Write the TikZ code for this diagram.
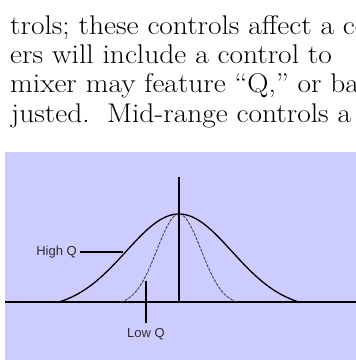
\documentclass[tikz,border=0pt]{standalone}
\usepackage{fontspec}
\newfontfamily\labelfont{Liberation Sans}
\definecolor{panelblue}{RGB}{204,204,255}
\definecolor{labelgray}{RGB}{45,45,45}
\newcommand{\widetext}[1]{\scalebox{1.09}[1]{#1}}
\tikzset{
  bodytext/.style={anchor=base west, inner sep=0pt, font=\fontsize{27}{29}\selectfont},
  qlabel/.style={inner sep=0pt, text=labelgray, font=\labelfont\fontsize{13}{15}\selectfont},
  panel/.style={fill=panelblue},
  axisline/.style={line width=1.8pt, black},
  widecurve/.style={line width=1.3pt, black},
  narrowcurve/.style={line width=0.8pt, black!80, dash pattern=on 3pt off 1.2pt},
  pointer/.style={line width=1.6pt, black}
}
\begin{document}
\begin{tikzpicture}[x=1pt,y=-1pt]
\useasboundingbox (0,0) rectangle (356,360);
\clip (0,0) rectangle (356,360);
% paragraph text
\node[bodytext] (l1) at (10,34) {\widetext{trols; these controls affect a co}};
\node[bodytext] (l2) at (10,63.3) {\widetext{ers will include a control to}};
\node[bodytext] (l3) at (10,92.7) {\widetext{mixer may feature “Q,” or ban}};
\node[bodytext] (l4) at (11,122) {\widetext{justed.\hspace{16pt}Mid-range controls a}};
% panel
\fill[panel] (5,152) rectangle (356,360);
% axes
\draw[axisline] (5,302) -- (356,302);
\draw[axisline] (179,177) -- (179,302);
% curves
\draw[widecurve] plot[domain=-121:121, samples=81, smooth]
  ({179+\x}, {302 - 88*(exp(-(\x*\x)/5618) - 0.077)/0.923});
\draw[narrowcurve] plot[domain=-58:58, samples=61, smooth]
  ({179+\x}, {302 - 88*(exp(-(\x*\x)/968) - 0.031)/0.969});
% labels
\node[qlabel, anchor=east] (highq) at (77,252) {High Q};
\coordinate (hqend) at (123,252);
\draw[pointer] ([xshift=3pt]highq.east) -- (hqend);
\node[qlabel] (lowq) at (146,334) {Low Q};
\coordinate (lqtop) at (146,281);
\draw[pointer] (lqtop) -- ([yshift=5pt]lowq.north);
\end{tikzpicture}
\end{document}
